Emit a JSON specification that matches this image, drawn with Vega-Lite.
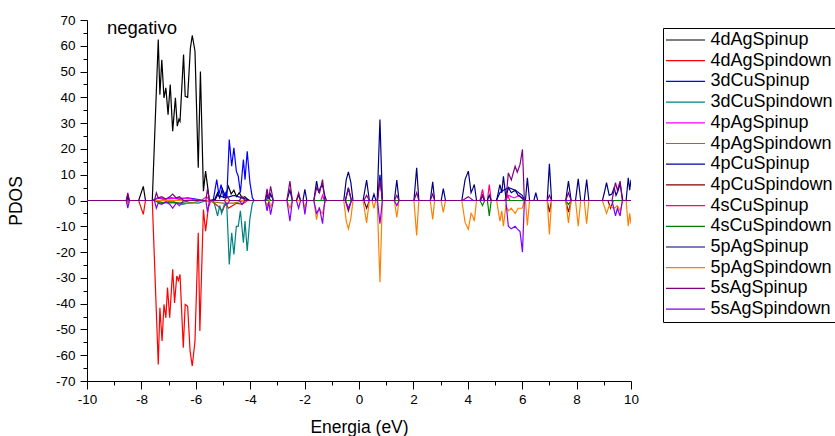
{
"$schema": "https://vega.github.io/schema/vega-lite/v6.json",
"width": 544, "height": 361,
"autosize": {"type": "none"},
"padding": {"left": 87, "top": 20, "right": 204, "bottom": 55},
"background": "white",
"config": {
  "view": {"stroke": null},
  "font": "Liberation Sans",
  "axis": {"grid": false, "domainColor": "black", "tickColor": "black", "labelColor": "black", "titleColor": "black", "labelFont": "Liberation Sans", "titleFont": "Liberation Sans", "labelFontSize": 13.5, "titleFontSize": 17.5, "titleFontWeight": "normal", "domainWidth": 1, "tickWidth": 1, "labelFlush": false}
},
"title": {"text": "negativo", "anchor": "start", "dx": 20, "offset": -24, "fontSize": 18.5, "fontWeight": "normal", "font": "Liberation Sans", "color": "black", "frame": "group"},
"datasets": {"pdos": [
{"s":"4dAgSpinup","e":-10,"v":0},{"s":"4dAgSpinup","e":-8.1,"v":0},{"s":"4dAgSpinup","e":-7.93,"v":5.5},{"s":"4dAgSpinup","e":-7.85,"v":0},{"s":"4dAgSpinup","e":-7.6,"v":0},{"s":"4dAgSpinup","e":-7.38,"v":62.4},{"s":"4dAgSpinup","e":-7.32,"v":41},{"s":"4dAgSpinup","e":-7.25,"v":54.6},{"s":"4dAgSpinup","e":-7.17,"v":39.8},{"s":"4dAgSpinup","e":-7.1,"v":43.7},{"s":"4dAgSpinup","e":-7.02,"v":33.3},{"s":"4dAgSpinup","e":-6.94,"v":45},{"s":"4dAgSpinup","e":-6.85,"v":26.9},{"s":"4dAgSpinup","e":-6.75,"v":39.8},{"s":"4dAgSpinup","e":-6.68,"v":28.8},{"s":"4dAgSpinup","e":-6.62,"v":31.5},{"s":"4dAgSpinup","e":-6.58,"v":30.7},{"s":"4dAgSpinup","e":-6.45,"v":56.6},{"s":"4dAgSpinup","e":-6.39,"v":40.4},{"s":"4dAgSpinup","e":-6.3,"v":40},{"s":"4dAgSpinup","e":-6.2,"v":59},{"s":"4dAgSpinup","e":-6.13,"v":64},{"s":"4dAgSpinup","e":-6.03,"v":57.9},{"s":"4dAgSpinup","e":-5.91,"v":12.7},{"s":"4dAgSpinup","e":-5.83,"v":50},{"s":"4dAgSpinup","e":-5.72,"v":3.6},{"s":"4dAgSpinup","e":-5.64,"v":11.4},{"s":"4dAgSpinup","e":-5.56,"v":4.9},{"s":"4dAgSpinup","e":-5.5,"v":0},{"s":"4dAgSpinup","e":-5.3,"v":0.5},{"s":"4dAgSpinup","e":-5.2,"v":3},{"s":"4dAgSpinup","e":-5.12,"v":1},{"s":"4dAgSpinup","e":-5.02,"v":4.5},{"s":"4dAgSpinup","e":-4.92,"v":1.5},{"s":"4dAgSpinup","e":-4.8,"v":5.5},{"s":"4dAgSpinup","e":-4.7,"v":2.5},{"s":"4dAgSpinup","e":-4.6,"v":4},{"s":"4dAgSpinup","e":-4.5,"v":1.5},{"s":"4dAgSpinup","e":-4.4,"v":3},{"s":"4dAgSpinup","e":-4.3,"v":1},{"s":"4dAgSpinup","e":-4.2,"v":1.5},{"s":"4dAgSpinup","e":-4.05,"v":0},{"s":"4dAgSpinup","e":10,"v":0},
{"s":"4dAgSpindown","e":-10,"v":0},{"s":"4dAgSpindown","e":-8.1,"v":0},{"s":"4dAgSpindown","e":-7.93,"v":-5.4},{"s":"4dAgSpindown","e":-7.85,"v":0},{"s":"4dAgSpindown","e":-7.6,"v":0},{"s":"4dAgSpindown","e":-7.38,"v":-63.6},{"s":"4dAgSpindown","e":-7.32,"v":-41.6},{"s":"4dAgSpindown","e":-7.24,"v":-54.5},{"s":"4dAgSpindown","e":-7.17,"v":-40.3},{"s":"4dAgSpindown","e":-7.1,"v":-45.5},{"s":"4dAgSpindown","e":-7.04,"v":-33.8},{"s":"4dAgSpindown","e":-6.96,"v":-45.5},{"s":"4dAgSpindown","e":-6.85,"v":-26.7},{"s":"4dAgSpindown","e":-6.78,"v":-39.7},{"s":"4dAgSpindown","e":-6.7,"v":-29.3},{"s":"4dAgSpindown","e":-6.64,"v":-31},{"s":"4dAgSpindown","e":-6.58,"v":-28.7},{"s":"4dAgSpindown","e":-6.46,"v":-57.1},{"s":"4dAgSpindown","e":-6.39,"v":-40.3},{"s":"4dAgSpindown","e":-6.3,"v":-41},{"s":"4dAgSpindown","e":-6.21,"v":-58.4},{"s":"4dAgSpindown","e":-6.13,"v":-64.2},{"s":"4dAgSpindown","e":-6.03,"v":-54.5},{"s":"4dAgSpindown","e":-5.91,"v":-12.5},{"s":"4dAgSpindown","e":-5.85,"v":-50.6},{"s":"4dAgSpindown","e":-5.72,"v":-3.5},{"s":"4dAgSpindown","e":-5.64,"v":-11.9},{"s":"4dAgSpindown","e":-5.54,"v":-2.8},{"s":"4dAgSpindown","e":-5.45,"v":0},{"s":"4dAgSpindown","e":-5.2,"v":-2},{"s":"4dAgSpindown","e":-5.02,"v":-4},{"s":"4dAgSpindown","e":-4.9,"v":-1},{"s":"4dAgSpindown","e":-4.8,"v":-3},{"s":"4dAgSpindown","e":-4.65,"v":-2},{"s":"4dAgSpindown","e":-4.5,"v":-1},{"s":"4dAgSpindown","e":-4.3,"v":-1.5},{"s":"4dAgSpindown","e":-4.1,"v":0},{"s":"4dAgSpindown","e":10,"v":0},
{"s":"3dCuSpinup","e":-10,"v":0},{"s":"3dCuSpinup","e":-7.6,"v":0},{"s":"3dCuSpinup","e":-7.4,"v":1},{"s":"3dCuSpinup","e":-7.2,"v":0.5},{"s":"3dCuSpinup","e":-6.9,"v":1},{"s":"3dCuSpinup","e":-6.6,"v":0.5},{"s":"3dCuSpinup","e":-6.3,"v":1},{"s":"3dCuSpinup","e":-6.0,"v":0.5},{"s":"3dCuSpinup","e":-5.7,"v":0},{"s":"3dCuSpinup","e":-5.36,"v":0},{"s":"3dCuSpinup","e":-5.23,"v":8.1},{"s":"3dCuSpinup","e":-5.15,"v":2.3},{"s":"3dCuSpinup","e":-5.07,"v":6.2},{"s":"3dCuSpinup","e":-4.98,"v":1.5},{"s":"3dCuSpinup","e":-4.92,"v":3},{"s":"3dCuSpinup","e":-4.86,"v":1},{"s":"3dCuSpinup","e":-4.77,"v":23.6},{"s":"3dCuSpinup","e":-4.68,"v":13.3},{"s":"3dCuSpinup","e":-4.6,"v":20.4},{"s":"3dCuSpinup","e":-4.51,"v":11.4},{"s":"3dCuSpinup","e":-4.44,"v":9.4},{"s":"3dCuSpinup","e":-4.36,"v":3},{"s":"3dCuSpinup","e":-4.25,"v":15.9},{"s":"3dCuSpinup","e":-4.19,"v":8.1},{"s":"3dCuSpinup","e":-4.11,"v":19.1},{"s":"3dCuSpinup","e":-4.01,"v":6.9},{"s":"3dCuSpinup","e":-3.92,"v":1},{"s":"3dCuSpinup","e":-3.85,"v":0},{"s":"3dCuSpinup","e":-3.4,"v":0},{"s":"3dCuSpinup","e":-3.35,"v":1.5},{"s":"3dCuSpinup","e":-3.25,"v":0},{"s":"3dCuSpinup","e":10,"v":0},
{"s":"3dCuSpindown","e":-10,"v":0},{"s":"3dCuSpindown","e":-7.5,"v":0},{"s":"3dCuSpindown","e":-7.2,"v":-0.8},{"s":"3dCuSpindown","e":-6.8,"v":-0.5},{"s":"3dCuSpindown","e":-6.5,"v":-1.5},{"s":"3dCuSpindown","e":-6.2,"v":-0.8},{"s":"3dCuSpindown","e":-5.9,"v":-1},{"s":"3dCuSpindown","e":-5.6,"v":0},{"s":"3dCuSpindown","e":-5.36,"v":0},{"s":"3dCuSpindown","e":-5.29,"v":-2.2},{"s":"3dCuSpindown","e":-5.2,"v":-6},{"s":"3dCuSpindown","e":-5.12,"v":-2},{"s":"3dCuSpindown","e":-5.05,"v":-5},{"s":"3dCuSpindown","e":-4.95,"v":-1.5},{"s":"3dCuSpindown","e":-4.86,"v":-2},{"s":"3dCuSpindown","e":-4.77,"v":-24.8},{"s":"3dCuSpindown","e":-4.68,"v":-12.5},{"s":"3dCuSpindown","e":-4.6,"v":-20.9},{"s":"3dCuSpindown","e":-4.51,"v":-10},{"s":"3dCuSpindown","e":-4.44,"v":-10},{"s":"3dCuSpindown","e":-4.36,"v":-4},{"s":"3dCuSpindown","e":-4.25,"v":-16.4},{"s":"3dCuSpindown","e":-4.19,"v":-8},{"s":"3dCuSpindown","e":-4.11,"v":-19.6},{"s":"3dCuSpindown","e":-4.01,"v":-7},{"s":"3dCuSpindown","e":-3.92,"v":-1},{"s":"3dCuSpindown","e":-3.85,"v":0},{"s":"3dCuSpindown","e":10,"v":0},
{"s":"4pAgSpinup","e":-10,"v":0},{"s":"4pAgSpinup","e":-8.55,"v":0},{"s":"4pAgSpinup","e":-8.5,"v":2},{"s":"4pAgSpinup","e":-8.45,"v":0},{"s":"4pAgSpinup","e":-7.5,"v":0},{"s":"4pAgSpinup","e":-7.4,"v":1},{"s":"4pAgSpinup","e":-7.0,"v":0.6},{"s":"4pAgSpinup","e":-6.6,"v":1},{"s":"4pAgSpinup","e":-6.2,"v":0.6},{"s":"4pAgSpinup","e":-5.8,"v":0},{"s":"4pAgSpinup","e":-5.6,"v":1.5},{"s":"4pAgSpinup","e":-5.5,"v":0},{"s":"4pAgSpinup","e":-1.4,"v":0},{"s":"4pAgSpinup","e":-1.34,"v":2},{"s":"4pAgSpinup","e":-1.28,"v":0},{"s":"4pAgSpinup","e":4.45,"v":0},{"s":"4pAgSpinup","e":4.54,"v":2},{"s":"4pAgSpinup","e":4.62,"v":0},{"s":"4pAgSpinup","e":5.4,"v":0},{"s":"4pAgSpinup","e":5.5,"v":2},{"s":"4pAgSpinup","e":5.7,"v":1},{"s":"4pAgSpinup","e":5.9,"v":2},{"s":"4pAgSpinup","e":6.05,"v":0},{"s":"4pAgSpinup","e":10,"v":0},
{"s":"4pAgSpindown","e":-10,"v":0},{"s":"4pAgSpindown","e":-7.5,"v":0},{"s":"4pAgSpindown","e":-7.3,"v":-1},{"s":"4pAgSpindown","e":-6.9,"v":-0.8},{"s":"4pAgSpindown","e":-6.5,"v":-1.2},{"s":"4pAgSpindown","e":-6.1,"v":-0.8},{"s":"4pAgSpindown","e":-5.8,"v":0},{"s":"4pAgSpindown","e":-5.0,"v":-1},{"s":"4pAgSpindown","e":-4.6,"v":-1},{"s":"4pAgSpindown","e":-4.2,"v":0},{"s":"4pAgSpindown","e":10,"v":0},
{"s":"4pCuSpinup","e":-10,"v":0},{"s":"4pCuSpinup","e":-5.3,"v":0},{"s":"4pCuSpinup","e":-5.2,"v":2},{"s":"4pCuSpinup","e":-4.9,"v":1},{"s":"4pCuSpinup","e":-4.6,"v":2},{"s":"4pCuSpinup","e":-4.3,"v":1},{"s":"4pCuSpinup","e":-4.0,"v":0},{"s":"4pCuSpinup","e":-0.5,"v":0},{"s":"4pCuSpinup","e":-0.39,"v":5},{"s":"4pCuSpinup","e":-0.28,"v":0},{"s":"4pCuSpinup","e":0.68,"v":0},{"s":"4pCuSpinup","e":0.77,"v":10},{"s":"4pCuSpinup","e":0.86,"v":0},{"s":"4pCuSpinup","e":5.05,"v":0},{"s":"4pCuSpinup","e":5.18,"v":3},{"s":"4pCuSpinup","e":5.31,"v":4},{"s":"4pCuSpinup","e":5.5,"v":5},{"s":"4pCuSpinup","e":5.75,"v":4},{"s":"4pCuSpinup","e":6.0,"v":2},{"s":"4pCuSpinup","e":6.1,"v":0},{"s":"4pCuSpinup","e":10,"v":0},
{"s":"4pCuSpindown","e":-10,"v":0},{"s":"4pCuSpindown","e":-8.55,"v":0},{"s":"4pCuSpindown","e":-8.5,"v":-1},{"s":"4pCuSpindown","e":-8.45,"v":0},{"s":"4pCuSpindown","e":-0.5,"v":0},{"s":"4pCuSpindown","e":-0.39,"v":-4},{"s":"4pCuSpindown","e":-0.28,"v":0},{"s":"4pCuSpindown","e":0.18,"v":0},{"s":"4pCuSpindown","e":0.28,"v":-3},{"s":"4pCuSpindown","e":0.38,"v":0},{"s":"4pCuSpindown","e":6.92,"v":0},{"s":"4pCuSpindown","e":7.0,"v":-4.5},{"s":"4pCuSpindown","e":7.08,"v":0},{"s":"4pCuSpindown","e":7.6,"v":0},{"s":"4pCuSpindown","e":7.7,"v":-4.5},{"s":"4pCuSpindown","e":7.8,"v":0},{"s":"4pCuSpindown","e":9.15,"v":0},{"s":"4pCuSpindown","e":9.25,"v":-3},{"s":"4pCuSpindown","e":9.35,"v":0},{"s":"4pCuSpindown","e":10,"v":0},
{"s":"4sCuSpinup","e":-10,"v":0},{"s":"4sCuSpinup","e":-8.55,"v":0},{"s":"4sCuSpinup","e":-8.5,"v":1},{"s":"4sCuSpinup","e":-8.45,"v":0},{"s":"4sCuSpinup","e":4.45,"v":0},{"s":"4sCuSpinup","e":4.54,"v":4.3},{"s":"4sCuSpinup","e":4.62,"v":0},{"s":"4sCuSpinup","e":4.72,"v":0},{"s":"4sCuSpinup","e":4.79,"v":6.2},{"s":"4sCuSpinup","e":4.86,"v":0},{"s":"4sCuSpinup","e":5.35,"v":0},{"s":"4sCuSpinup","e":5.45,"v":2},{"s":"4sCuSpinup","e":5.55,"v":0},{"s":"4sCuSpinup","e":10,"v":0},
{"s":"4sCuSpindown","e":-10,"v":0},{"s":"4sCuSpindown","e":-7.5,"v":0},{"s":"4sCuSpindown","e":-7.35,"v":-1},{"s":"4sCuSpindown","e":-7.0,"v":-0.5},{"s":"4sCuSpindown","e":-6.6,"v":-1},{"s":"4sCuSpindown","e":-6.2,"v":0},{"s":"4sCuSpindown","e":4.45,"v":0},{"s":"4sCuSpindown","e":4.54,"v":-2},{"s":"4sCuSpindown","e":4.62,"v":0},{"s":"4sCuSpindown","e":4.72,"v":0},{"s":"4sCuSpindown","e":4.79,"v":-6},{"s":"4sCuSpindown","e":4.86,"v":0},{"s":"4sCuSpindown","e":7.6,"v":0},{"s":"4sCuSpindown","e":7.7,"v":-1.5},{"s":"4sCuSpindown","e":7.8,"v":0},{"s":"4sCuSpindown","e":10,"v":0},
{"s":"5pAgSpinup","e":-10,"v":0},{"s":"5pAgSpinup","e":-8.55,"v":0},{"s":"5pAgSpinup","e":-8.5,"v":1.5},{"s":"5pAgSpinup","e":-8.45,"v":0},{"s":"5pAgSpinup","e":-3.45,"v":0},{"s":"5pAgSpinup","e":-3.38,"v":2.5},{"s":"5pAgSpinup","e":-3.3,"v":0.5},{"s":"5pAgSpinup","e":-3.25,"v":2.5},{"s":"5pAgSpinup","e":-3.15,"v":0},{"s":"5pAgSpinup","e":-2.65,"v":0},{"s":"5pAgSpinup","e":-2.54,"v":4},{"s":"5pAgSpinup","e":-2.45,"v":0},{"s":"5pAgSpinup","e":-2.3,"v":0},{"s":"5pAgSpinup","e":-2.22,"v":2},{"s":"5pAgSpinup","e":-2.15,"v":0},{"s":"5pAgSpinup","e":-2.06,"v":0},{"s":"5pAgSpinup","e":-1.99,"v":4.3},{"s":"5pAgSpinup","e":-1.92,"v":0},{"s":"5pAgSpinup","e":-1.66,"v":0},{"s":"5pAgSpinup","e":-1.56,"v":7.5},{"s":"5pAgSpinup","e":-1.48,"v":3},{"s":"5pAgSpinup","e":-1.42,"v":5},{"s":"5pAgSpinup","e":-1.34,"v":6},{"s":"5pAgSpinup","e":-1.26,"v":2},{"s":"5pAgSpinup","e":-1.2,"v":0},{"s":"5pAgSpinup","e":-0.56,"v":0},{"s":"5pAgSpinup","e":-0.47,"v":8},{"s":"5pAgSpinup","e":-0.39,"v":11.1},{"s":"5pAgSpinup","e":-0.3,"v":7},{"s":"5pAgSpinup","e":-0.22,"v":0},{"s":"5pAgSpinup","e":0.15,"v":0},{"s":"5pAgSpinup","e":0.28,"v":7.9},{"s":"5pAgSpinup","e":0.38,"v":0},{"s":"5pAgSpinup","e":0.48,"v":0},{"s":"5pAgSpinup","e":0.55,"v":2.5},{"s":"5pAgSpinup","e":0.62,"v":0},{"s":"5pAgSpinup","e":0.67,"v":0},{"s":"5pAgSpinup","e":0.77,"v":31.4},{"s":"5pAgSpinup","e":0.86,"v":0},{"s":"5pAgSpinup","e":1.3,"v":0},{"s":"5pAgSpinup","e":1.39,"v":7.9},{"s":"5pAgSpinup","e":1.47,"v":0},{"s":"5pAgSpinup","e":2.02,"v":0},{"s":"5pAgSpinup","e":2.12,"v":12.7},{"s":"5pAgSpinup","e":2.2,"v":0},{"s":"5pAgSpinup","e":2.62,"v":0},{"s":"5pAgSpinup","e":2.71,"v":7.2},{"s":"5pAgSpinup","e":2.78,"v":0},{"s":"5pAgSpinup","e":3.02,"v":0},{"s":"5pAgSpinup","e":3.1,"v":4.6},{"s":"5pAgSpinup","e":3.18,"v":0},{"s":"5pAgSpinup","e":3.78,"v":0},{"s":"5pAgSpinup","e":3.9,"v":8.1},{"s":"5pAgSpinup","e":4.02,"v":11.4},{"s":"5pAgSpinup","e":4.12,"v":3},{"s":"5pAgSpinup","e":4.18,"v":4.5},{"s":"5pAgSpinup","e":4.24,"v":6.2},{"s":"5pAgSpinup","e":4.32,"v":0},{"s":"5pAgSpinup","e":4.47,"v":0},{"s":"5pAgSpinup","e":4.54,"v":2},{"s":"5pAgSpinup","e":4.6,"v":0},{"s":"5pAgSpinup","e":4.72,"v":0},{"s":"5pAgSpinup","e":4.79,"v":2},{"s":"5pAgSpinup","e":4.86,"v":0},{"s":"5pAgSpinup","e":5.06,"v":0},{"s":"5pAgSpinup","e":5.18,"v":6.2},{"s":"5pAgSpinup","e":5.25,"v":3},{"s":"5pAgSpinup","e":5.31,"v":9.4},{"s":"5pAgSpinup","e":5.4,"v":1},{"s":"5pAgSpinup","e":5.49,"v":5},{"s":"5pAgSpinup","e":5.6,"v":3},{"s":"5pAgSpinup","e":5.74,"v":4},{"s":"5pAgSpinup","e":5.85,"v":2},{"s":"5pAgSpinup","e":6.0,"v":1},{"s":"5pAgSpinup","e":6.08,"v":0},{"s":"5pAgSpinup","e":6.12,"v":0},{"s":"5pAgSpinup","e":6.19,"v":8.8},{"s":"5pAgSpinup","e":6.27,"v":0},{"s":"5pAgSpinup","e":6.43,"v":0},{"s":"5pAgSpinup","e":6.5,"v":3},{"s":"5pAgSpinup","e":6.57,"v":0},{"s":"5pAgSpinup","e":6.92,"v":0},{"s":"5pAgSpinup","e":7.0,"v":14.2},{"s":"5pAgSpinup","e":7.08,"v":0},{"s":"5pAgSpinup","e":7.6,"v":0},{"s":"5pAgSpinup","e":7.7,"v":7.5},{"s":"5pAgSpinup","e":7.8,"v":0},{"s":"5pAgSpinup","e":7.96,"v":0},{"s":"5pAgSpinup","e":8.06,"v":8.4},{"s":"5pAgSpinup","e":8.15,"v":0},{"s":"5pAgSpinup","e":8.28,"v":0},{"s":"5pAgSpinup","e":8.37,"v":8.1},{"s":"5pAgSpinup","e":8.45,"v":0},{"s":"5pAgSpinup","e":8.95,"v":0},{"s":"5pAgSpinup","e":9.02,"v":3},{"s":"5pAgSpinup","e":9.1,"v":6.9},{"s":"5pAgSpinup","e":9.2,"v":2},{"s":"5pAgSpinup","e":9.3,"v":2.5},{"s":"5pAgSpinup","e":9.38,"v":5},{"s":"5pAgSpinup","e":9.45,"v":2},{"s":"5pAgSpinup","e":9.53,"v":4},{"s":"5pAgSpinup","e":9.6,"v":6.5},{"s":"5pAgSpinup","e":9.7,"v":0},{"s":"5pAgSpinup","e":9.82,"v":0},{"s":"5pAgSpinup","e":9.9,"v":8.8},{"s":"5pAgSpinup","e":9.95,"v":4},{"s":"5pAgSpinup","e":10,"v":8},
{"s":"5pAgSpindown","e":-10,"v":0},{"s":"5pAgSpindown","e":-8.55,"v":0},{"s":"5pAgSpindown","e":-8.5,"v":-1.5},{"s":"5pAgSpindown","e":-8.45,"v":0},{"s":"5pAgSpindown","e":-3.45,"v":0},{"s":"5pAgSpindown","e":-3.38,"v":-2},{"s":"5pAgSpindown","e":-3.3,"v":0},{"s":"5pAgSpindown","e":-3.25,"v":-2.5},{"s":"5pAgSpindown","e":-3.15,"v":0},{"s":"5pAgSpindown","e":-2.65,"v":0},{"s":"5pAgSpindown","e":-2.54,"v":-3},{"s":"5pAgSpindown","e":-2.45,"v":0},{"s":"5pAgSpindown","e":-2.06,"v":0},{"s":"5pAgSpindown","e":-1.99,"v":-3},{"s":"5pAgSpindown","e":-1.92,"v":0},{"s":"5pAgSpindown","e":-1.66,"v":0},{"s":"5pAgSpindown","e":-1.56,"v":-7.4},{"s":"5pAgSpindown","e":-1.48,"v":-3},{"s":"5pAgSpindown","e":-1.42,"v":-4},{"s":"5pAgSpindown","e":-1.34,"v":-5},{"s":"5pAgSpindown","e":-1.26,"v":-1},{"s":"5pAgSpindown","e":-1.2,"v":0},{"s":"5pAgSpindown","e":-0.56,"v":0},{"s":"5pAgSpindown","e":-0.47,"v":-8},{"s":"5pAgSpindown","e":-0.39,"v":-11},{"s":"5pAgSpindown","e":-0.3,"v":-7},{"s":"5pAgSpindown","e":-0.22,"v":0},{"s":"5pAgSpindown","e":0.15,"v":0},{"s":"5pAgSpindown","e":0.28,"v":-8.7},{"s":"5pAgSpindown","e":0.38,"v":0},{"s":"5pAgSpindown","e":0.48,"v":0},{"s":"5pAgSpindown","e":0.55,"v":-3},{"s":"5pAgSpindown","e":0.62,"v":0},{"s":"5pAgSpindown","e":0.67,"v":0},{"s":"5pAgSpindown","e":0.77,"v":-31.7},{"s":"5pAgSpindown","e":0.86,"v":0},{"s":"5pAgSpindown","e":1.3,"v":0},{"s":"5pAgSpindown","e":1.39,"v":-6.6},{"s":"5pAgSpindown","e":1.47,"v":0},{"s":"5pAgSpindown","e":2.02,"v":0},{"s":"5pAgSpindown","e":2.12,"v":-13.6},{"s":"5pAgSpindown","e":2.2,"v":0},{"s":"5pAgSpindown","e":2.62,"v":0},{"s":"5pAgSpindown","e":2.71,"v":-7.3},{"s":"5pAgSpindown","e":2.78,"v":0},{"s":"5pAgSpindown","e":3.02,"v":0},{"s":"5pAgSpindown","e":3.1,"v":-4.6},{"s":"5pAgSpindown","e":3.18,"v":0},{"s":"5pAgSpindown","e":3.78,"v":0},{"s":"5pAgSpindown","e":3.9,"v":-8.5},{"s":"5pAgSpindown","e":4.02,"v":-11.2},{"s":"5pAgSpindown","e":4.12,"v":-5},{"s":"5pAgSpindown","e":4.18,"v":-6},{"s":"5pAgSpindown","e":4.24,"v":-8},{"s":"5pAgSpindown","e":4.32,"v":0},{"s":"5pAgSpindown","e":5.06,"v":0},{"s":"5pAgSpindown","e":5.18,"v":-8},{"s":"5pAgSpindown","e":5.25,"v":-4},{"s":"5pAgSpindown","e":5.31,"v":-10},{"s":"5pAgSpindown","e":5.4,"v":-2},{"s":"5pAgSpindown","e":5.49,"v":-4},{"s":"5pAgSpindown","e":5.6,"v":-3},{"s":"5pAgSpindown","e":5.74,"v":-5},{"s":"5pAgSpindown","e":5.85,"v":-3},{"s":"5pAgSpindown","e":6.0,"v":-3},{"s":"5pAgSpindown","e":6.08,"v":0},{"s":"5pAgSpindown","e":6.12,"v":0},{"s":"5pAgSpindown","e":6.19,"v":-9.7},{"s":"5pAgSpindown","e":6.27,"v":0},{"s":"5pAgSpindown","e":6.92,"v":0},{"s":"5pAgSpindown","e":7.0,"v":-13.2},{"s":"5pAgSpindown","e":7.08,"v":0},{"s":"5pAgSpindown","e":7.6,"v":0},{"s":"5pAgSpindown","e":7.7,"v":-8.7},{"s":"5pAgSpindown","e":7.8,"v":0},{"s":"5pAgSpindown","e":7.96,"v":0},{"s":"5pAgSpindown","e":8.06,"v":-10},{"s":"5pAgSpindown","e":8.15,"v":0},{"s":"5pAgSpindown","e":8.28,"v":0},{"s":"5pAgSpindown","e":8.37,"v":-9},{"s":"5pAgSpindown","e":8.45,"v":0},{"s":"5pAgSpindown","e":8.95,"v":0},{"s":"5pAgSpindown","e":9.1,"v":-5},{"s":"5pAgSpindown","e":9.2,"v":-2},{"s":"5pAgSpindown","e":9.38,"v":-3},{"s":"5pAgSpindown","e":9.5,"v":-2},{"s":"5pAgSpindown","e":9.6,"v":-4},{"s":"5pAgSpindown","e":9.7,"v":0},{"s":"5pAgSpindown","e":9.82,"v":0},{"s":"5pAgSpindown","e":9.9,"v":-10},{"s":"5pAgSpindown","e":9.95,"v":-5},{"s":"5pAgSpindown","e":10,"v":-9},
{"s":"5sAgSpindown","e":-10,"v":0},{"s":"5sAgSpindown","e":-8.56,"v":0},{"s":"5sAgSpindown","e":-8.5,"v":-3},{"s":"5sAgSpindown","e":-8.44,"v":0},{"s":"5sAgSpindown","e":-7.52,"v":0},{"s":"5sAgSpindown","e":-7.45,"v":-3},{"s":"5sAgSpindown","e":-7.38,"v":-1},{"s":"5sAgSpindown","e":-7.25,"v":-1.5},{"s":"5sAgSpindown","e":-7.1,"v":-0.5},{"s":"5sAgSpindown","e":-6.95,"v":-1.5},{"s":"5sAgSpindown","e":-6.85,"v":-3},{"s":"5sAgSpindown","e":-6.72,"v":-1},{"s":"5sAgSpindown","e":-6.6,"v":-2},{"s":"5sAgSpindown","e":-6.45,"v":0},{"s":"5sAgSpindown","e":-5.63,"v":0},{"s":"5sAgSpindown","e":-5.57,"v":-4.5},{"s":"5sAgSpindown","e":-5.5,"v":0},{"s":"5sAgSpindown","e":-4.95,"v":0},{"s":"5sAgSpindown","e":-4.85,"v":-1.5},{"s":"5sAgSpindown","e":-4.75,"v":0},{"s":"5sAgSpindown","e":-4.4,"v":0},{"s":"5sAgSpindown","e":-4.3,"v":-1.5},{"s":"5sAgSpindown","e":-4.2,"v":0},{"s":"5sAgSpindown","e":-3.45,"v":0},{"s":"5sAgSpindown","e":-3.38,"v":-4},{"s":"5sAgSpindown","e":-3.32,"v":-0.5},{"s":"5sAgSpindown","e":-3.25,"v":-5.5},{"s":"5sAgSpindown","e":-3.15,"v":0},{"s":"5sAgSpindown","e":-2.65,"v":0},{"s":"5sAgSpindown","e":-2.54,"v":-8},{"s":"5sAgSpindown","e":-2.45,"v":0},{"s":"5sAgSpindown","e":-2.3,"v":0},{"s":"5sAgSpindown","e":-2.22,"v":-3},{"s":"5sAgSpindown","e":-2.15,"v":0},{"s":"5sAgSpindown","e":-2.06,"v":0},{"s":"5sAgSpindown","e":-1.99,"v":-5.4},{"s":"5sAgSpindown","e":-1.92,"v":0},{"s":"5sAgSpindown","e":-1.66,"v":0},{"s":"5sAgSpindown","e":-1.56,"v":-5},{"s":"5sAgSpindown","e":-1.45,"v":-3},{"s":"5sAgSpindown","e":-1.34,"v":-9},{"s":"5sAgSpindown","e":-1.26,"v":0},{"s":"5sAgSpindown","e":-0.5,"v":0},{"s":"5sAgSpindown","e":-0.39,"v":-3},{"s":"5sAgSpindown","e":-0.28,"v":0},{"s":"5sAgSpindown","e":0.68,"v":0},{"s":"5sAgSpindown","e":0.77,"v":-9},{"s":"5sAgSpindown","e":0.86,"v":0},{"s":"5sAgSpindown","e":1.3,"v":0},{"s":"5sAgSpindown","e":1.39,"v":-2},{"s":"5sAgSpindown","e":1.47,"v":0},{"s":"5sAgSpindown","e":5.4,"v":0},{"s":"5sAgSpindown","e":5.49,"v":-10},{"s":"5sAgSpindown","e":5.6,"v":-11},{"s":"5sAgSpindown","e":5.74,"v":-10},{"s":"5sAgSpindown","e":5.82,"v":-11},{"s":"5sAgSpindown","e":5.92,"v":-12},{"s":"5sAgSpindown","e":6.01,"v":-20},{"s":"5sAgSpindown","e":6.08,"v":0},{"s":"5sAgSpindown","e":9.3,"v":0},{"s":"5sAgSpindown","e":9.43,"v":-6},{"s":"5sAgSpindown","e":9.5,"v":-3},{"s":"5sAgSpindown","e":9.6,"v":-6},{"s":"5sAgSpindown","e":9.68,"v":0},{"s":"5sAgSpindown","e":10,"v":0},
{"s":"5sAgSpinup","e":-10,"v":0},{"s":"5sAgSpinup","e":-8.56,"v":0},{"s":"5sAgSpinup","e":-8.5,"v":3},{"s":"5sAgSpinup","e":-8.44,"v":0},{"s":"5sAgSpinup","e":-7.52,"v":0},{"s":"5sAgSpinup","e":-7.45,"v":3},{"s":"5sAgSpinup","e":-7.38,"v":1},{"s":"5sAgSpinup","e":-7.25,"v":1.5},{"s":"5sAgSpinup","e":-7.1,"v":0.5},{"s":"5sAgSpinup","e":-6.95,"v":1.5},{"s":"5sAgSpinup","e":-6.85,"v":2.5},{"s":"5sAgSpinup","e":-6.72,"v":1},{"s":"5sAgSpinup","e":-6.6,"v":1.5},{"s":"5sAgSpinup","e":-6.45,"v":0},{"s":"5sAgSpinup","e":-5.63,"v":0},{"s":"5sAgSpinup","e":-5.57,"v":4.5},{"s":"5sAgSpinup","e":-5.5,"v":0},{"s":"5sAgSpinup","e":-4.95,"v":0},{"s":"5sAgSpinup","e":-4.85,"v":1.5},{"s":"5sAgSpinup","e":-4.75,"v":0},{"s":"5sAgSpinup","e":-4.4,"v":0},{"s":"5sAgSpinup","e":-4.3,"v":1.5},{"s":"5sAgSpinup","e":-4.2,"v":0},{"s":"5sAgSpinup","e":-3.45,"v":0},{"s":"5sAgSpinup","e":-3.38,"v":4.5},{"s":"5sAgSpinup","e":-3.32,"v":0.5},{"s":"5sAgSpinup","e":-3.25,"v":5.5},{"s":"5sAgSpinup","e":-3.15,"v":0},{"s":"5sAgSpinup","e":-2.65,"v":0},{"s":"5sAgSpinup","e":-2.54,"v":7.5},{"s":"5sAgSpinup","e":-2.45,"v":0},{"s":"5sAgSpinup","e":-2.3,"v":0},{"s":"5sAgSpinup","e":-2.22,"v":3},{"s":"5sAgSpinup","e":-2.15,"v":0},{"s":"5sAgSpinup","e":-1.66,"v":0},{"s":"5sAgSpinup","e":-1.56,"v":5},{"s":"5sAgSpinup","e":-1.45,"v":3},{"s":"5sAgSpinup","e":-1.34,"v":8.1},{"s":"5sAgSpinup","e":-1.26,"v":0},{"s":"5sAgSpinup","e":-0.5,"v":0},{"s":"5sAgSpinup","e":-0.39,"v":4.6},{"s":"5sAgSpinup","e":-0.28,"v":0},{"s":"5sAgSpinup","e":0.18,"v":0},{"s":"5sAgSpinup","e":0.28,"v":2},{"s":"5sAgSpinup","e":0.38,"v":0},{"s":"5sAgSpinup","e":0.68,"v":0},{"s":"5sAgSpinup","e":0.77,"v":8},{"s":"5sAgSpinup","e":0.86,"v":0},{"s":"5sAgSpinup","e":1.3,"v":0},{"s":"5sAgSpinup","e":1.39,"v":2},{"s":"5sAgSpinup","e":1.47,"v":0},{"s":"5sAgSpinup","e":2.02,"v":0},{"s":"5sAgSpinup","e":2.12,"v":3},{"s":"5sAgSpinup","e":2.2,"v":0},{"s":"5sAgSpinup","e":2.62,"v":0},{"s":"5sAgSpinup","e":2.71,"v":2.5},{"s":"5sAgSpinup","e":2.78,"v":0},{"s":"5sAgSpinup","e":3.8,"v":0},{"s":"5sAgSpinup","e":4.02,"v":1.5},{"s":"5sAgSpinup","e":4.2,"v":0},{"s":"5sAgSpinup","e":4.45,"v":0},{"s":"5sAgSpinup","e":4.54,"v":2},{"s":"5sAgSpinup","e":4.62,"v":0},{"s":"5sAgSpinup","e":5.4,"v":0},{"s":"5sAgSpinup","e":5.49,"v":10.7},{"s":"5sAgSpinup","e":5.6,"v":8},{"s":"5sAgSpinup","e":5.74,"v":13.3},{"s":"5sAgSpinup","e":5.82,"v":11},{"s":"5sAgSpinup","e":5.92,"v":14},{"s":"5sAgSpinup","e":6.01,"v":19.8},{"s":"5sAgSpinup","e":6.08,"v":0},{"s":"5sAgSpinup","e":6.92,"v":0},{"s":"5sAgSpinup","e":7.0,"v":2},{"s":"5sAgSpinup","e":7.08,"v":0},{"s":"5sAgSpinup","e":7.6,"v":0},{"s":"5sAgSpinup","e":7.7,"v":3},{"s":"5sAgSpinup","e":7.8,"v":0},{"s":"5sAgSpinup","e":9.3,"v":0},{"s":"5sAgSpinup","e":9.43,"v":6.9},{"s":"5sAgSpinup","e":9.5,"v":4},{"s":"5sAgSpinup","e":9.6,"v":7.5},{"s":"5sAgSpinup","e":9.68,"v":0},{"s":"5sAgSpinup","e":10,"v":0}
]},
"data": {"name": "pdos"},
"layer": [
  {
    "mark": {"type": "line", "strokeWidth": 1.2, "clip": true},
    "encoding": {
      "x": {"field": "e", "type": "quantitative", "scale": {"domain": [-10, 10], "nice": false, "zero": false},
            "axis": {"orient": "bottom", "values": [-10, -8, -6, -4, -2, 0, 2, 4, 6, 8, 10], "labelExpr": "'' + datum.value", "tickSize": 8, "labelPadding": 3, "title": "Energia (eV)", "titleX": 272, "titleY": 37}},
      "y": {"field": "v", "type": "quantitative", "scale": {"domain": [-70, 70], "nice": false, "zero": false},
            "axis": {"orient": "left", "values": [-70, -60, -50, -40, -30, -20, -10, 0, 10, 20, 30, 40, 50, 60, 70], "labelExpr": "'' + datum.value", "tickSize": 7, "labelPadding": 5, "title": "PDOS", "titleX": -62, "titleY": 180.5}},
      "color": {"field": "s", "type": "nominal",
        "scale": {"domain": ["4dAgSpinup","4dAgSpindown","3dCuSpinup","3dCuSpindown","4pAgSpinup","4pAgSpindown","4pCuSpinup","4pCuSpindown","4sCuSpinup","4sCuSpindown","5pAgSpinup","5pAgSpindown","5sAgSpinup","5sAgSpindown"],
                  "range": ["#000000","#FF0000","#0000FF","#008080","#FF00FF","#808000","#0000A0","#800000","#FF0080","#008000","#000080","#FF8000","#800080","#8000FF"]},
        "legend": {"orient": "none", "legendX": 576, "legendY": 8, "title": null, "strokeColor": "black", "fillColor": "white", "padding": 3, "symbolType": "M-2.44,0H2.44", "symbolSize": 256, "symbolStrokeWidth": 1.2, "symbolOffset": 10.5, "labelFontSize": 18, "labelFont": "Liberation Sans", "labelColor": "black", "rowPadding": 2.7, "labelOffset": 16, "labelLimit": 300}}
    }
  },
  {
    "mark": {"type": "point", "opacity": 0},
    "encoding": {
      "x": {"field": "e", "type": "quantitative", "scale": {"domain": [-10, 10], "nice": false, "zero": false},
            "axis": {"orient": "bottom", "values": [-9, -7, -5, -3, -1, 1, 3, 5, 7, 9], "labels": false, "domain": false, "tickSize": 4, "title": null}},
      "y": {"field": "v", "type": "quantitative", "scale": {"domain": [-70, 70], "nice": false, "zero": false},
            "axis": {"orient": "left", "values": [-65, -55, -45, -35, -25, -15, -5, 5, 15, 25, 35, 45, 55, 65], "labels": false, "domain": false, "tickSize": 4, "title": null}}
    }
  }
],
"resolve": {"axis": {"x": "independent", "y": "independent"}}
}
